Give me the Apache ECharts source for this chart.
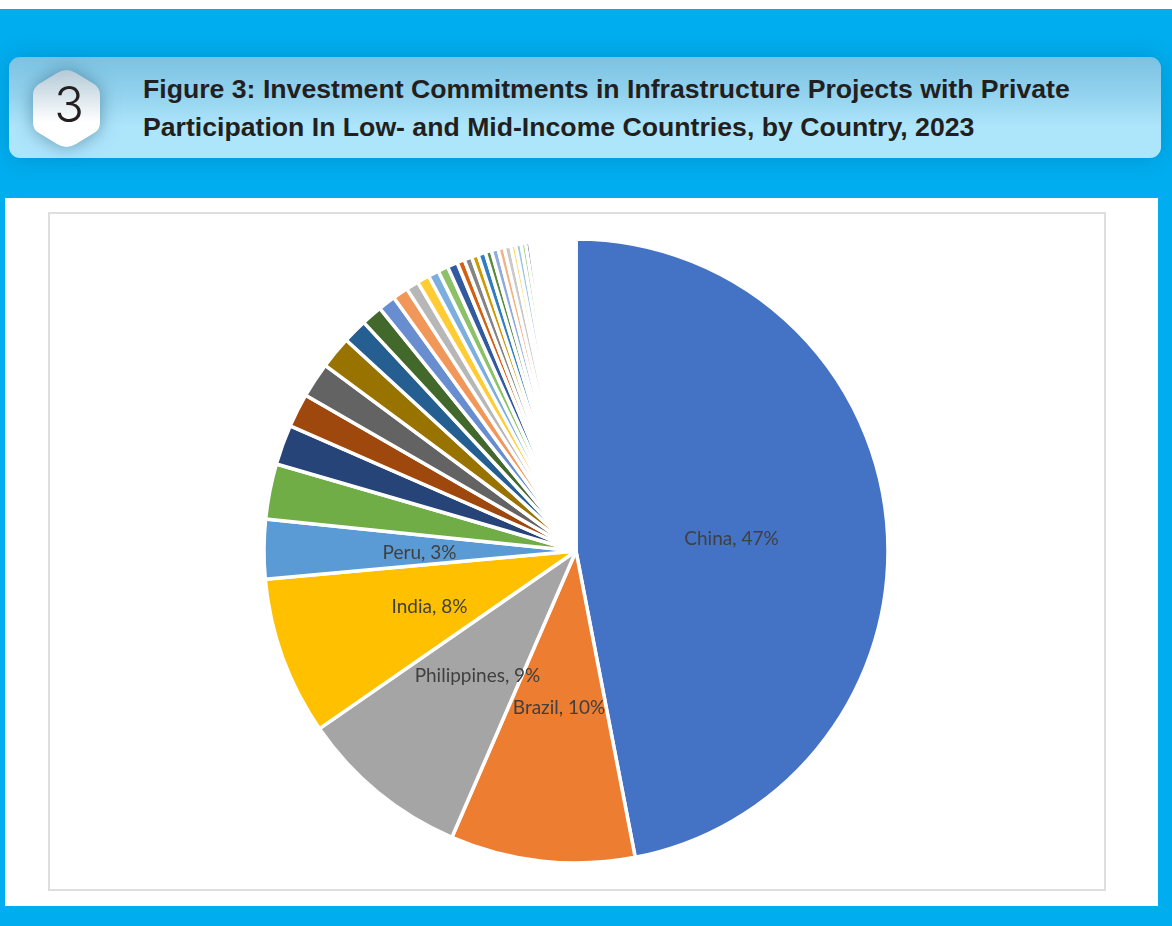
<!DOCTYPE html>
<html>
<head>
<meta charset="utf-8">
<title>Figure 3</title>
<script src="https://cdn.jsdelivr.net/npm/echarts@6/dist/echarts.min.js"></script>
<style>
  html, body { margin: 0; padding: 0; background: #fff; }
  #page { position: relative; width: 1172px; height: 926px; overflow: hidden; background: #fff; }
  #blue { position: absolute; left: 0; top: 9px; width: 1172px; height: 917px; background: #00aeef; }
  #bar {
    position: absolute; left: 9px; top: 57px; width: 1152px; height: 101px; border-radius: 11px;
    background: linear-gradient(to bottom, #7bc2e2 0%, #95d4ef 40%, #ade5fb 68%, #ade5fb 100%);
    box-shadow: 0 0 24px rgba(0, 90, 140, .32);
  }
  #badge { position: absolute; left: 15px; top: 0; filter: drop-shadow(0 0 9px rgba(40, 90, 120, .55)); }
  #num {
    position: absolute; left: 33px; top: 75px; width: 72px; text-align: center; color: #231f20;
    font: 300 49px/60px "Inter", "Open Sans", sans-serif;
  }
  #heading {
    position: absolute; left: 143px; top: 70px; color: #231f20;
    font: bold 26.65px/38px "Liberation Sans", sans-serif; white-space: nowrap;
  }
  #panel { position: absolute; left: 5px; top: 198px; width: 1153px; height: 708px; background: #fff; }
  #frame { position: absolute; left: 48px; top: 212px; width: 1054px; height: 675px; border: 2px solid #dedede; }
  #main { width: 1054px; height: 675px; }
</style>
</head>
<body>
<div id="page">
  <div id="blue"></div>
  <div id="bar">
    <svg id="badge" width="86" height="101" viewBox="0 0 86 101" style="overflow: visible">
      <defs>
        <linearGradient id="hex" x1="0" y1="0" x2="0" y2="1">
          <stop offset="0" stop-color="#b4cad7"/>
          <stop offset="0.68" stop-color="#ffffff"/>
          <stop offset="1" stop-color="#ffffff"/>
        </linearGradient>
      </defs>
      <path fill="url(#hex)" d="M42.5 13 Q47 13 52 16 L70 27 Q76 31 76 38 L76 65 Q76 73 70 76 L52 87 Q47 90 42.5 90 Q38 90 33 87 L15 76 Q9 73 9 65 L9 38 Q9 31 15 27 L33 16 Q38 13 42.5 13 Z"/>
    </svg>
  </div>
  <div id="num">3</div>
  <div id="heading">Figure 3: Investment Commitments in Infrastructure Projects with Private<br>Participation In Low- and Mid-Income Countries, by Country, 2023</div>
  <div id="panel"></div>
  <div id="frame"><div id="main"></div></div>
</div>
<script>
// only the five biggest countries are named in the picture
const countries = ['China', 'Brazil', 'Philippines', 'India', 'Peru']
// share of commitments in %
const shares = [46.96, 9.55, 8.85, 8.2, 3.07, 2.87, 2.07, 1.75, 1.82, 1.68, 1.27, 1.09,
  0.9, 0.8, 0.65, 0.64, 0.55, 0.53, 0.53, 0.39, 0.4, 0.35, 0.39, 0.32, 0.35, 0.32,
  0.35, 0.25, 0.28, 0.24, 0.21, 0.14]
// the hairline slices left of 12 o'clock vanish under the white borders
const restShare = 2.23
const sliceColors = ['#4472c4', '#ed7d31', '#a5a5a5', '#ffc000', '#5b9bd5', '#70ad47',
  '#264478', '#9e480e', '#636363', '#997300', '#255e91', '#43682b',
  '#698ed0', '#f1975a', '#b7b7b7', '#ffcd33', '#7cafdd', '#8cc168',
  '#335aa1', '#d26012', '#848484', '#cc9a00', '#327dc2', '#5a8a39',
  '#8faadc', '#f4b183', '#c9c9c9', '#ffd966', '#9dc3e6', '#a9d18e',
  '#44546a', '#f8cbad']
// hand placed label centres like in the original, chart pixels
const labelSpots = [[681.5, 325], [509, 494], [427.5, 462], [379.5, 393], [369.5, 339]]

const chart = echarts.init(document.getElementById('main'))

const pieData = shares.map((v, i) => ({
  name: countries[i] || '',
  value: v,
  itemStyle: { color: sliceColors[i] },
  label: { show: i < countries.length }
}))
pieData.push({ name: '', value: restShare, itemStyle: { color: '#fff' }, label: { show: false } })

chart.setOption({
  animation: false,
  series: [{
    type: 'pie',
    center: [526, 337],
    radius: [0, 312],
    startAngle: 90,
    clockwise: true,
    avoidLabelOverlap: false,
    data: pieData,
    itemStyle: { borderColor: '#fff', borderWidth: 3.5 },
    label: {
      position: 'inside',
      color: '#404040',
      fontFamily: 'Lato',
      fontSize: 19,
      formatter: p => p.name + ', ' + Math.round(p.value) + '%'
    },
    labelLine: { show: false },
    labelLayout: params => {
      const spot = labelSpots[params.dataIndex]
      if (!spot || !params.labelRect) return {}
      return {
        x: spot[0] - params.labelRect.width / 2,
        y: spot[1] - params.labelRect.height / 2,
        align: 'left',
        verticalAlign: 'top'
      }
    }
  }]
})
</script>
</body>
</html>
